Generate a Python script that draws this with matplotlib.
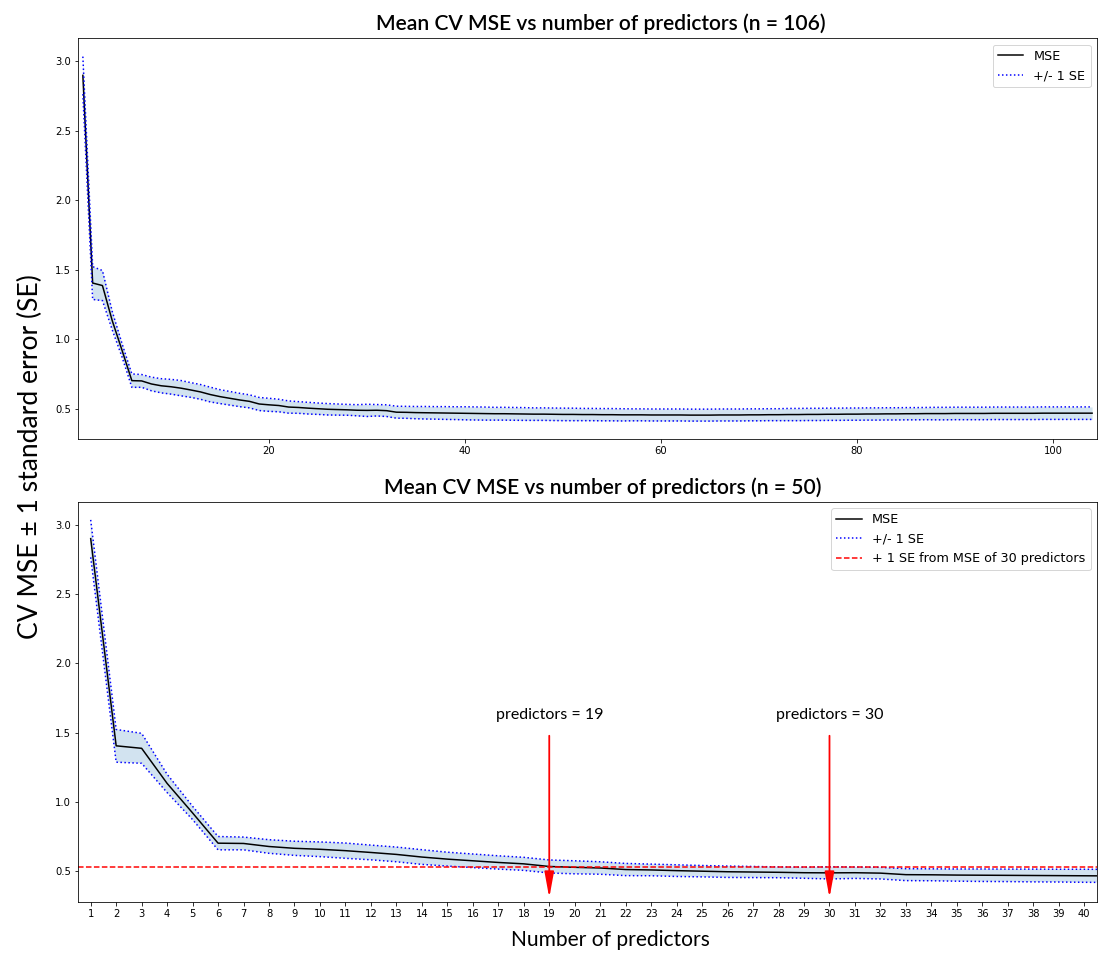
import matplotlib
matplotlib.use("Agg")
import matplotlib.pyplot as plt
import numpy as np

# ---- data ----
n_predictors = list(range(1, 105))
mse = [2.900, 1.406, 1.388, 1.135, 0.922, 0.704, 0.702, 0.680, 0.667, 0.660,
       0.650, 0.637, 0.623, 0.604, 0.589, 0.577, 0.565, 0.555, 0.536, 0.530,
       0.525, 0.514, 0.511, 0.506, 0.502, 0.498, 0.496, 0.494, 0.491, 0.490,
       0.491, 0.488, 0.477, 0.476, 0.474, 0.473, 0.472, 0.471, 0.470, 0.469,
       0.468, 0.467, 0.466, 0.466, 0.465, 0.464, 0.463, 0.463, 0.462, 0.461,
       0.461, 0.460, 0.460, 0.459, 0.459, 0.458, 0.458, 0.458, 0.457, 0.457,
       0.457, 0.457, 0.456, 0.456, 0.456, 0.457, 0.457, 0.457, 0.458, 0.458,
       0.459, 0.459, 0.460, 0.460, 0.461, 0.461, 0.462, 0.462, 0.463, 0.463,
       0.464, 0.464, 0.465, 0.465, 0.466, 0.466, 0.467, 0.467, 0.467, 0.468,
       0.468, 0.468, 0.468, 0.469, 0.469, 0.469, 0.469, 0.469, 0.470, 0.470,
       0.470, 0.470, 0.470, 0.470]
se = [0.135, 0.118, 0.108, 0.066, 0.048, 0.048, 0.046, 0.049, 0.051, 0.053,
      0.055, 0.053, 0.053, 0.053, 0.050, 0.049, 0.048, 0.047, 0.047, 0.047,
      0.045, 0.044, 0.042, 0.042, 0.041, 0.041, 0.040, 0.039, 0.040, 0.044,
      0.041, 0.042, 0.043, 0.043, 0.044, 0.045, 0.045, 0.046, 0.046, 0.047,
      0.047, 0.047, 0.046, 0.046, 0.046, 0.046, 0.045, 0.045, 0.045, 0.045,
      0.045, 0.044, 0.044, 0.044, 0.044, 0.044, 0.043, 0.043, 0.043, 0.043,
      0.043, 0.043, 0.043, 0.043, 0.043, 0.043, 0.043, 0.043, 0.043, 0.043,
      0.043, 0.043, 0.044, 0.044, 0.044, 0.044, 0.044, 0.044, 0.044, 0.044,
      0.044, 0.044, 0.044, 0.044, 0.044, 0.044, 0.044, 0.045, 0.045, 0.045,
      0.045, 0.045, 0.045, 0.045, 0.045, 0.045, 0.045, 0.045, 0.045, 0.045,
      0.045, 0.045, 0.045, 0.045]
marked = [19, 30]
ref_predictors = 30

x = np.array(n_predictors)
m = np.array(mse)
s = np.array(se)
upper = m + s
lower = m - s
ref_line = m[ref_predictors - 1] + s[ref_predictors - 1]

TITLE_FONT = ["Lato", "DejaVu Sans"]

fig = plt.figure(figsize=(1112 / 72, 954 / 72), dpi=72)
ax1 = fig.add_axes([0.0701, 0.5395, 0.9164, 0.4203])
ax2 = fig.add_axes([0.0701, 0.0548, 0.9164, 0.4193])

for ax in (ax1, ax2):
    ax.fill_between(x, lower, upper, color="C0", alpha=0.2, linewidth=0)
    ax.plot(x, m, color="black", lw=1.5, label="MSE")
    ax.plot(x, upper, "b:", lw=1.5, label="+/- 1 SE")
    ax.plot(x, lower, "b:", lw=1.5)

ax1.set_xlim(0.5, len(x) + 0.5)
ax1.set_title("Mean CV MSE vs number of predictors (n = 106)",
              fontsize=21, family=TITLE_FONT, weight="semibold", pad=8,
              x=0.513)
ax1.legend(loc="upper right", fontsize=12.8)

ax2.axhline(ref_line, color="red", ls="--", lw=1.5,
            label="+ 1 SE from MSE of %d predictors" % ref_predictors)
ax2.set_xlim(0.5, 40.5)
ax2.set_xticks(range(1, 41))
ax2.set_title("Mean CV MSE vs number of predictors (n = 50)",
              fontsize=21, family=TITLE_FONT, weight="semibold", pad=8,
              x=0.515)
ax2.set_xlabel("Number of predictors", fontsize=21, family=TITLE_FONT)
ax2.xaxis.set_label_coords(0.523, -0.07)
ax2.legend(loc="upper right", fontsize=12.8)

for k in marked:
    ax2.annotate("predictors = %d" % k, xy=(k, 0.31), xytext=(k, 1.63),
                 ha="center", va="center", fontsize=16, family=TITLE_FONT,
                 arrowprops=dict(arrowstyle="-|>,head_length=1.2,head_width=0.22",
                                 color="red", lw=1.8, shrinkA=12, shrinkB=0,
                                 mutation_scale=18))

fig.text(0.027, 0.521, "CV MSE \u00b1 1 standard error (SE)", rotation=90,
         ha="center", va="center", fontsize=26.5, family=TITLE_FONT)

fig.savefig("out.png", dpi=72)
